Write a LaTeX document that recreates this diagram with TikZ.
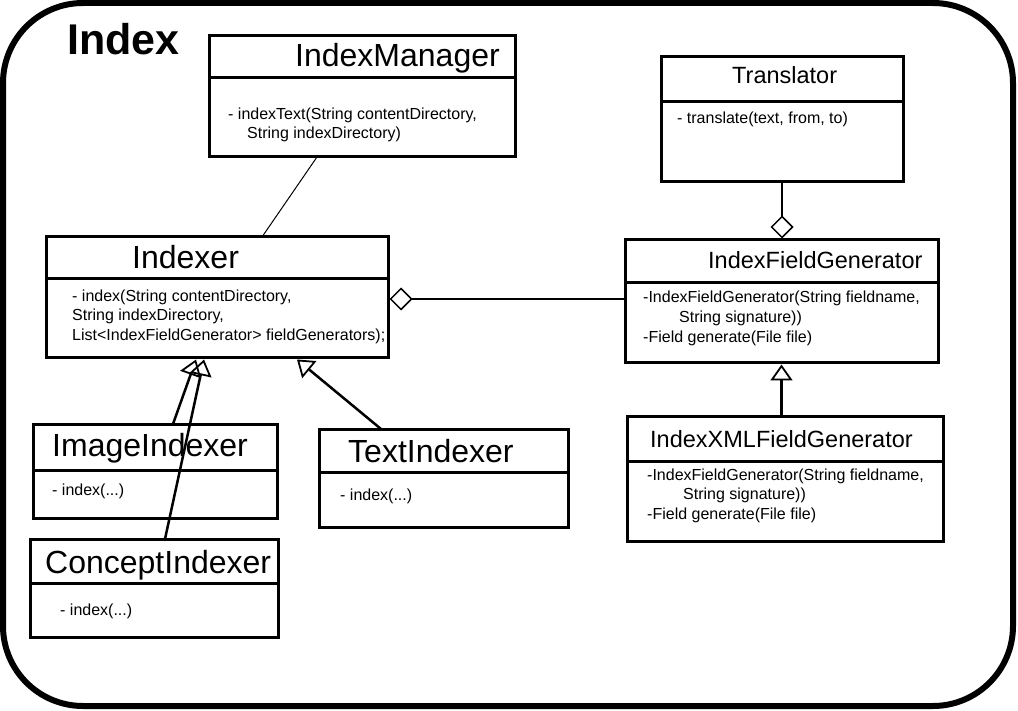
\documentclass[tikz,border=0pt]{standalone}
\usepackage{fontspec}
\setmainfont{Liberation Sans}
\usetikzlibrary{positioning}
\usetikzlibrary{calc}
\usetikzlibrary{arrows.meta}
\newcommand{\bigname}{\fontsize{32}{38}\selectfont}
\newcommand{\midname}{\fontsize{23.5}{28}\selectfont}
\tikzset{
    classbox/.style = {rectangle,draw,line width=3pt,outer sep=0pt,inner sep=0pt,anchor=north west},
    classname/.style = {inner sep=0pt,anchor=base west,font=\bigname},
    classops/.style = {inner sep=0pt,anchor=north west,align=left,font=\fontsize{16}{19.5}\selectfont},
    assoc/.style = {line width=1pt},
    aggregation/.style = {line width=1.5pt,-{Diamond[open,length=23pt,width=23pt]}},
    inherits/.style = {line width=2.5pt,-{Triangle[open,length=16pt,width=22pt,line width=1.8pt]}}}

\begin{document}
\begin{tikzpicture}[x=1pt,y=-1pt]
        \useasboundingbox (0,0) rectangle (1018,711);
        \draw[line width=6pt,rounded corners=80pt] (3,3) rectangle (1013,706);
        \node[inner sep=0pt,anchor=base west,font=\fontsize{43}{50}\selectfont\bfseries] (paneltitle) at (67,55) {Index};

        \node[classbox,minimum width=306pt,minimum height=42pt] (managerhead) at (209,36) {};
        \node[classbox,below=0pt of managerhead,minimum width=306pt,minimum height=79pt] (managerbody) {};
        \node[classname] (managername) at ($(managerhead.south west)+(86,-11)$) {IndexManager};
        \node[classops] (managerops) at ($(managerbody.north west)+(19,29.3)$) {- indexText(String contentDirectory,\\\hspace*{19pt}String indexDirectory)};

        \node[classbox,minimum width=242pt,minimum height=45pt] (translatorhead) at (661,57) {};
        \node[classbox,below=0pt of translatorhead,minimum width=242pt,minimum height=80pt] (translatorbody) {};
        \node[classname,font=\midname] (translatorname) at ($(translatorhead.south west)+(71,-18)$) {Translator};
        \node[classops] (translatorops) at ($(translatorbody.north west)+(16,9.3)$) {- translate(text, from, to)};

        \node[classbox,minimum width=313pt,minimum height=43pt] (ifghead) at (625,240) {};
        \node[classbox,below=0pt of ifghead,minimum width=313pt,minimum height=80pt] (ifgbody) {};
        \node[classname,font=\midname] (ifgname) at ($(ifghead.south west)+(83,-14)$) {IndexFieldGenerator};
        \node[classops,font=\fontsize{16}{20}\selectfont] (ifgops) at ($(ifgbody.north west)+(18,7.3)$) {-IndexFieldGenerator(String fieldname,\\\hspace*{36pt}String signature))\\-Field generate(File file)};

        \node[classbox,minimum width=316pt,minimum height=45pt] (ixfghead) at (627,416) {};
        \node[classbox,below=0pt of ixfghead,minimum width=316pt,minimum height=80pt] (ixfgbody) {};
        \node[classname,font=\midname] (ixfgname) at ($(ixfghead.south west)+(23,-14)$) {IndexXMLFieldGenerator};
        \node[classops] (ixfgops) at ($(ixfgbody.north west)+(20,7.3)$) {-IndexFieldGenerator(String fieldname,\\\hspace*{36pt}String signature))\\-Field generate(File file)};

        \node[classbox,minimum width=342pt,minimum height=42pt] (indexerhead) at (46,237) {};
        \node[classbox,below=0pt of indexerhead,minimum width=342pt,minimum height=79pt] (indexerbody) {};
        \node[classname] (indexername) at ($(indexerhead.south west)+(86,-10)$) {Indexer};
        \node[classops] (indexerops) at ($(indexerbody.north west)+(26,10.3)$) {- index(String contentDirectory,\\String indexDirectory,\\List<IndexFieldGenerator> fieldGenerators);};

        \node[classbox,minimum width=244pt,minimum height=46pt] (imagehead) at (33,424) {};
        \node[classbox,below=0pt of imagehead,minimum width=244pt,minimum height=48pt] (imagebody) {};
        \node[classname] (imagename) at ($(imagehead.south west)+(19,-14)$) {ImageIndexer};
        \node[classops] (imageops) at ($(imagebody.north west)+(19,13.3)$) {- index(...)};

        \node[classbox,minimum width=248pt,minimum height=44pt] (concepthead) at (30,539) {};
        \node[classbox,below=0pt of concepthead,minimum width=248pt,minimum height=54pt] (conceptbody) {};
        \node[classname] (conceptname) at ($(concepthead.south west)+(15,-10)$) {ConceptIndexer};
        \node[classops] (conceptops) at ($(conceptbody.north west)+(30,20.3)$) {- index(...)};

        \node[classbox,minimum width=249pt,minimum height=43pt] (texthead) at (319,429) {};
        \node[classbox,below=0pt of texthead,minimum width=249pt,minimum height=55pt] (textbody) {};
        \node[classname] (textname) at ($(texthead.south west)+(29,-10)$) {TextIndexer};
        \node[classops] (textops) at ($(textbody.north west)+(21,16.3)$) {- index(...)};

        \draw[assoc] ($(managerbody.south west)+(108,0)$) -- ($(indexerhead.north west)+(216,0)$);
        \draw[aggregation] ($(ifgbody.north west)+(0,16)$) -- ($(indexerbody.north east)+(1.5,20)$);
        \draw[aggregation] (translatorbody.south) -- ($(translatorbody.south |- ifghead.north)+(0,-1.5)$);
        \draw[inherits] (ixfghead.north -| ifgbody.south) -- ($(ifgbody.south)+(0,1.5)$);
        \draw[inherits] ($(imagehead.north west)+(140,0)$) -- ($(indexerbody.south west)+(150,1.5)$);
        \draw[inherits] ($(concepthead.north west)+(135,0)$) -- ($(indexerbody.south west)+(158,1.5)$);
        \draw[inherits] ($(texthead.north west)+(62,0)$) -- ($(indexerbody.south west)+(251,1.5)$);
    \end{tikzpicture}
\end{document}
